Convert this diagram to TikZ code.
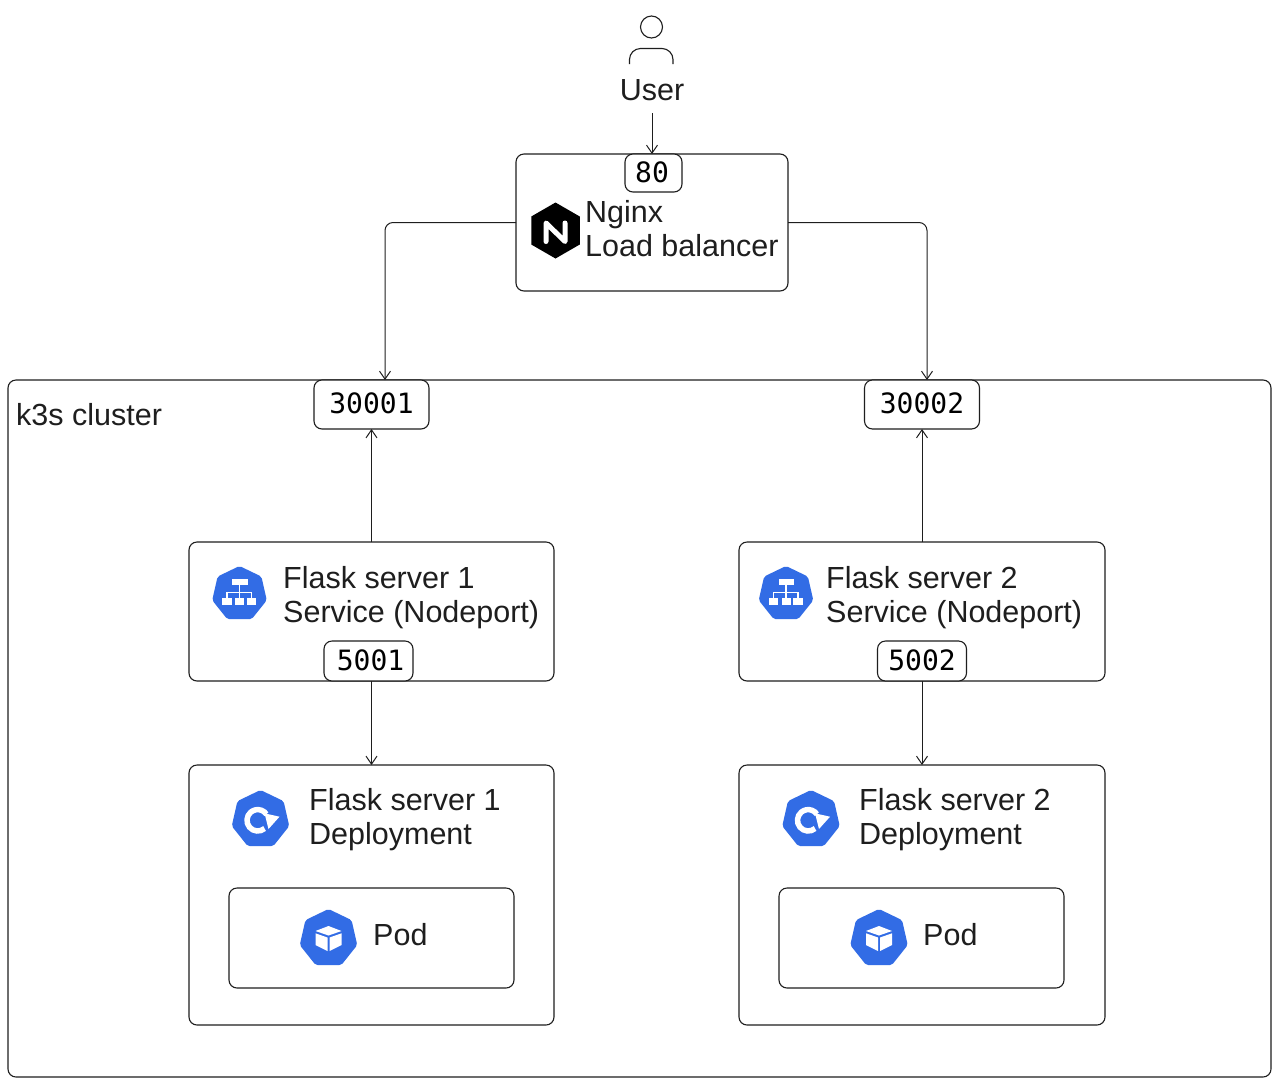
\documentclass[tikz,border=0pt]{standalone}
\usepackage{fontspec}
\setmainfont{Liberation Sans}
\newfontfamily\portfont{DejaVu Sans Mono}
\usetikzlibrary{shapes.geometric,arrows.meta,positioning}
\definecolor{kubeblue}{HTML}{326CE5}
\definecolor{inkline}{HTML}{1E1E1E}
\tikzstyle{box} = [rectangle, rounded corners=8pt, draw=inkline, line width=1.1pt, fill=white, inner sep=0pt, outer sep=0pt]
\tikzstyle{portbox} = [box, minimum height=49pt, text depth=2pt, font=\fontsize{28}{32}\selectfont\portfont]
\tikzstyle{txt} = [anchor=west, align=left, inner sep=0pt, text=inkline, font=\fontsize{30.5}{34}\selectfont]
\tikzstyle{icon} = [regular polygon, regular polygon sides=7, fill=kubeblue, minimum size=59pt, inner sep=0pt, rounded corners=2pt]
\tikzstyle{arrow} = [draw=inkline, line width=1pt, -{Straight Barb[length=8pt,width=11pt]}]
\tikzset{
  svcmark/.pic={
    \fill[white] (-7.5,-15.3) rectangle (8,-9.3);
    \draw[white, line width=1.5pt] (0.2,-9.3) -- (0.2,4.3) (-12.5,4.3) -- (-12.5,-1.3) -- (12,-1.3) -- (12,4.3);
    \foreach \x in {-12.5,0.2,12} \fill[white] (\x-4.7,4.3) rectangle (\x+4.7,11);
  },
  depmark/.pic={
    \draw[white, line width=5.5pt] (-2.8,0.8) ++(50:10.7) arc[start angle=50, end angle=325, radius=10.7];
    \fill[white] (19,-2.8) -- (4,-6.2) -- (8,9.5) -- cycle;
  },
  podmark/.pic={
    \fill[white] (-13,-7.5) -- (0,-12.5) -- (13,-7.5) -- (0,-3) -- cycle;
    \fill[white] (-13,-5.2) -- (-1,-1) -- (-1,12.5) -- (-13,6.5) -- cycle;
    \fill[white] (13,-5.2) -- (1,-1) -- (1,12.5) -- (13,6.5) -- cycle;
  },
}

\begin{document}
\begin{tikzpicture}[x=1pt, y=-1pt, node distance=10pt]
    \useasboundingbox (0,0) rectangle (1280,1085);
    % cluster and load balancer
    \node[box, minimum width=1263pt, minimum height=697pt] (cluster) at (639.5,728.5) {};
    \node[txt] (clustertxt) at (16,415) {k3s cluster};
    \node[box, minimum width=272pt, minimum height=137pt] (lb) at (652,222.5) {};
    \node[portbox, minimum width=57pt, minimum height=38pt] (port80) at (653.5,173) {\kern-3pt 80};
    \node[regular polygon, regular polygon sides=6, regular polygon rotate=30, fill=black, minimum size=56pt, inner sep=0pt] (nginxicon) at (555.5,230.5) {};
    \draw[white, line width=5pt, line join=round, line cap=round] ([shift={(-9.5,11)}]nginxicon.center) -- ++(0,-18.5) -- ++(19,18.5) -- ++(0,-18.5);
    \node[txt] (lbtxt) at (585,229) {Nginx\\Load balancer};
    % user
    \node[circle, draw=inkline, line width=1.1pt, minimum size=22pt, inner sep=0pt] (userhead) at (651.5,27) {};
    \draw[inkline, line width=1.1pt, rounded corners=11pt] ([shift={(-22,37)}]userhead.center) -- ++(0,-15.5) -- ++(43.5,0) -- ++(0,15.5);
    \node[txt, anchor=center, minimum height=46pt] (user) at (652,90) {User};
    % left side
    \node[portbox, minimum width=115pt] (port1) at (371.5,404.5) {30001};
    \node[box, minimum width=365pt, minimum height=139pt] (svc1) at (371.5,611.5) {};
    \node[box, minimum width=365pt, minimum height=260pt, below=84pt of svc1] (dep1) {};
    \node[box, minimum width=285pt, minimum height=100pt] (pod1) at (371.5,938) {};
    \node[portbox, minimum width=89pt, minimum height=40pt] (svcport1) at (368.5,661) {\kern4pt 5001};
    \node[icon, minimum size=56pt] (svcicon1) at (239.5,594) {};
    \pic at (svcicon1.center) {svcmark};
    \node[txt] (svctxt1) at (283,598) {Flask server 1\\Service (Nodeport)};
    \node[icon] (depicon1) at (260.5,819.5) {};
    \pic at (depicon1.center) {depmark};
    \node[txt] (deptxt1) at (309,820) {Flask server 1\\Deployment};
    \node[icon] (podicon1) at (328.5,938.5) {};
    \pic at (podicon1.center) {podmark};
    \node[txt] (podtxt1) at (373,935) {Pod};
    % right side
    \node[portbox, minimum width=115pt] (port2) at (922,404.5) {30002};
    \node[box, minimum width=366pt, minimum height=139pt, right=185pt of svc1] (svc2) {};
    \node[box, minimum width=366pt, minimum height=260pt, below=84pt of svc2] (dep2) {};
    \node[box, minimum width=285pt, minimum height=100pt] (pod2) at (921.5,938) {};
    \node[portbox, minimum width=89pt, minimum height=40pt] (svcport2) at (922,661) {5002};
    \node[icon, minimum size=56pt] (svcicon2) at (786,594) {};
    \pic at (svcicon2.center) {svcmark};
    \node[txt] (svctxt2) at (826,598) {Flask server 2\\Service (Nodeport)};
    \node[icon] (depicon2) at (811,819.5) {};
    \pic at (depicon2.center) {depmark};
    \node[txt] (deptxt2) at (859,820) {Flask server 2\\Deployment};
    \node[icon] (podicon2) at (879,938.5) {};
    \pic at (podicon2.center) {podmark};
    \node[txt] (podtxt2) at (923,935) {Pod};
    % arrows
    \draw[arrow] (user.south) -- (user.south |- port80.north);
    \draw[arrow, rounded corners=8pt] (lb.west) -| ([xshift=13.5pt]port1.north);
    \draw[arrow, rounded corners=8pt] (lb.east) -| ([xshift=5pt]port2.north);
    \draw[arrow] (svc1.north) -- (port1.south);
    \draw[arrow] (svc2.north) -- (port2.south);
    \draw[arrow] (svc1.south) -- (dep1.north);
    \draw[arrow] (svc2.south) -- (dep2.north);
\end{tikzpicture}
\end{document}
